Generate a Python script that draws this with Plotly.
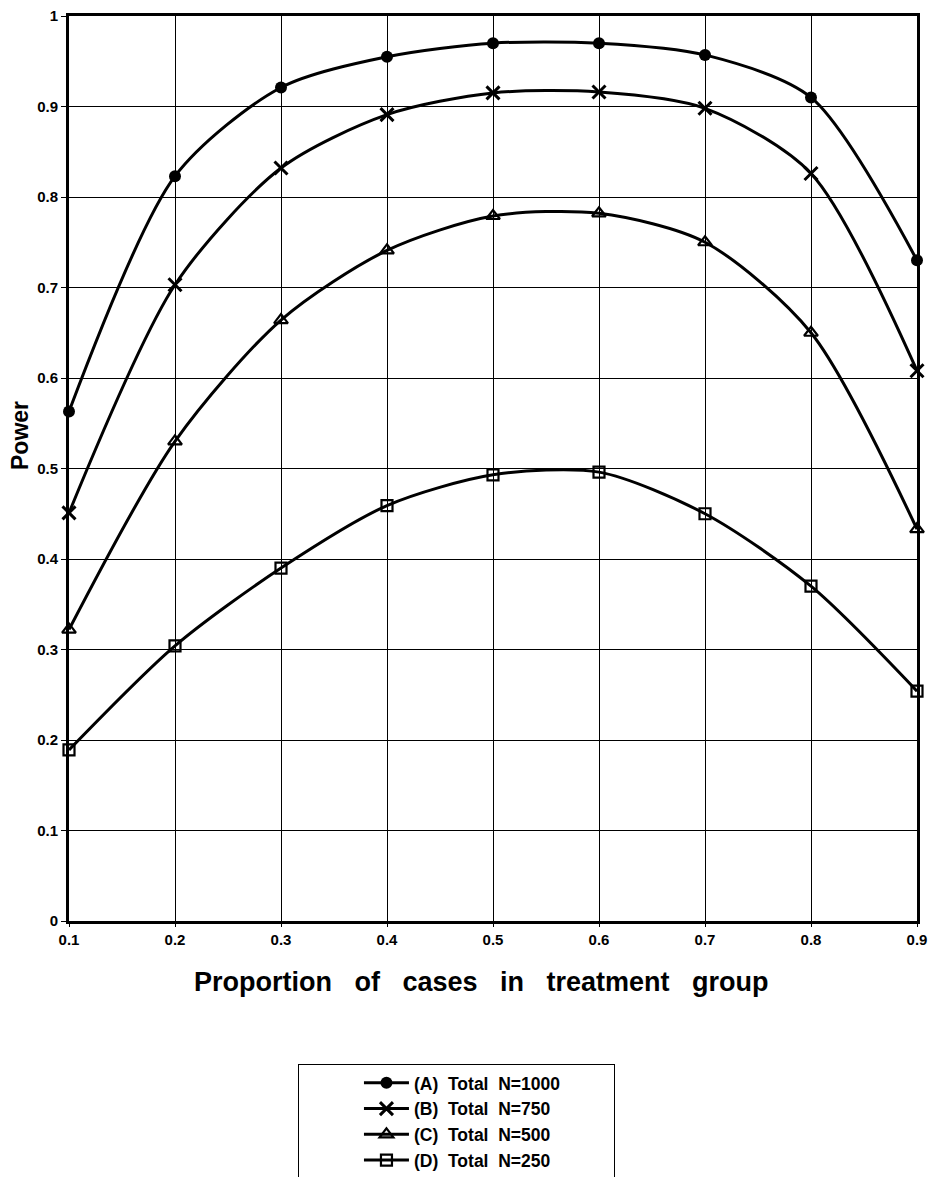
import plotly.graph_objects as go

proportion = [0.1, 0.2, 0.3, 0.4, 0.5, 0.6, 0.7, 0.8, 0.9]
power_a = [0.563, 0.823, 0.921, 0.955, 0.970, 0.970, 0.957, 0.910, 0.730]
power_b = [0.451, 0.703, 0.832, 0.891, 0.915, 0.916, 0.898, 0.826, 0.608]
power_c = [0.322, 0.530, 0.664, 0.741, 0.779, 0.782, 0.750, 0.650, 0.433]
power_d = [0.189, 0.304, 0.390, 0.459, 0.493, 0.496, 0.450, 0.370, 0.254]
series_names = ["(A)  Total  N=1000", "(B)  Total  N=750", "(C)  Total  N=500", "(D)  Total  N=250"]
x_ticks = [0.1, 0.2, 0.3, 0.4, 0.5, 0.6, 0.7, 0.8, 0.9]
y_ticks = [0, 0.1, 0.2, 0.3, 0.4, 0.5, 0.6, 0.7, 0.8, 0.9, 1]
y_labels = ["0", "0.1", "0.2", "0.3", "0.4", "0.5", "0.6", "0.7", "0.8", "0.9", "1"]
x_title = "Proportion   of   cases   in   treatment   group"
y_title = "Power"

FONT = "Liberation Sans"
NB = "\u00a0"

markers = [
    dict(symbol="circle", size=12, color="black", line=dict(color="black", width=0)),
    dict(symbol="x-thin", size=13, color="black", line=dict(color="black", width=3)),
    dict(symbol="triangle-up-open", size=12, color="black", line=dict(color="black", width=2.2)),
    dict(symbol="square-open", size=11, color="black", line=dict(color="black", width=2.2)),
]

fig = go.Figure()
for i, (name, ys, mk) in enumerate(zip(series_names, [power_a, power_b, power_c, power_d], markers)):
    label = name.replace("  ", NB * 2)
    if i == 0:
        label = label + NB * 10
    fig.add_trace(go.Scatter(
        x=proportion, y=ys, name=label,
        mode="lines+markers",
        line=dict(color="black", width=3, shape="spline", smoothing=0.8),
        marker=mk,
        cliponaxis=False,
    ))

fig.update_layout(
    width=932, height=1177,
    paper_bgcolor="white", plot_bgcolor="white",
    margin=dict(l=69, r=15, t=16, b=256, autoexpand=False),
    font=dict(family=FONT, color="black"),
    showlegend=True,
    legend=dict(
        x=0.270, y=-0.158, xanchor="left", yanchor="top",
        bgcolor="white", bordercolor="black", borderwidth=1,
        font=dict(family=FONT, size=17.5, color="black", weight="bold"),
        itemwidth=45, indentation=60, tracegroupgap=0,
    ),
    annotations=[
        dict(text=x_title.replace(" ", NB), xref="paper", yref="paper", x=0.486, y=-0.0674,
             xanchor="center", yanchor="middle", showarrow=False,
             font=dict(family=FONT, size=27, weight="bold", color="black")),
        dict(text=y_title, xref="paper", yref="paper", x=-0.0578, y=0.537,
             xanchor="center", yanchor="middle", showarrow=False, textangle=-90,
             font=dict(family=FONT, size=23, weight="bold", color="black")),
    ],
)

fig.update_xaxes(
    range=[0.1, 0.9], tickvals=x_ticks, ticktext=[str(v) for v in x_ticks],
    showgrid=True, gridcolor="black", gridwidth=1,
    showline=True, linecolor="black", linewidth=3, mirror=True,
    ticks="outside", ticklen=3, tickcolor="black",
    tickfont=dict(family=FONT, size=15, weight="bold"),
    ticklabeloverflow="allow",
    zeroline=False, automargin=False,
)
fig.update_yaxes(
    range=[0, 1], tickvals=y_ticks, ticktext=y_labels,
    showgrid=True, gridcolor="black", gridwidth=1,
    showline=True, linecolor="black", linewidth=3, mirror=True,
    ticks="outside", ticklen=5, tickcolor="black",
    tickfont=dict(family=FONT, size=15, weight="bold"),
    ticklabeloverflow="allow",
    zeroline=False, automargin=False,
)

fig.write_html(
    "out.html",
    config={"displayModeBar": False},
    post_script=("document.body.style.margin='0';"
                 "document.body.style.overflow='hidden';"
                 "document.documentElement.style.overflow='hidden';"),
)
